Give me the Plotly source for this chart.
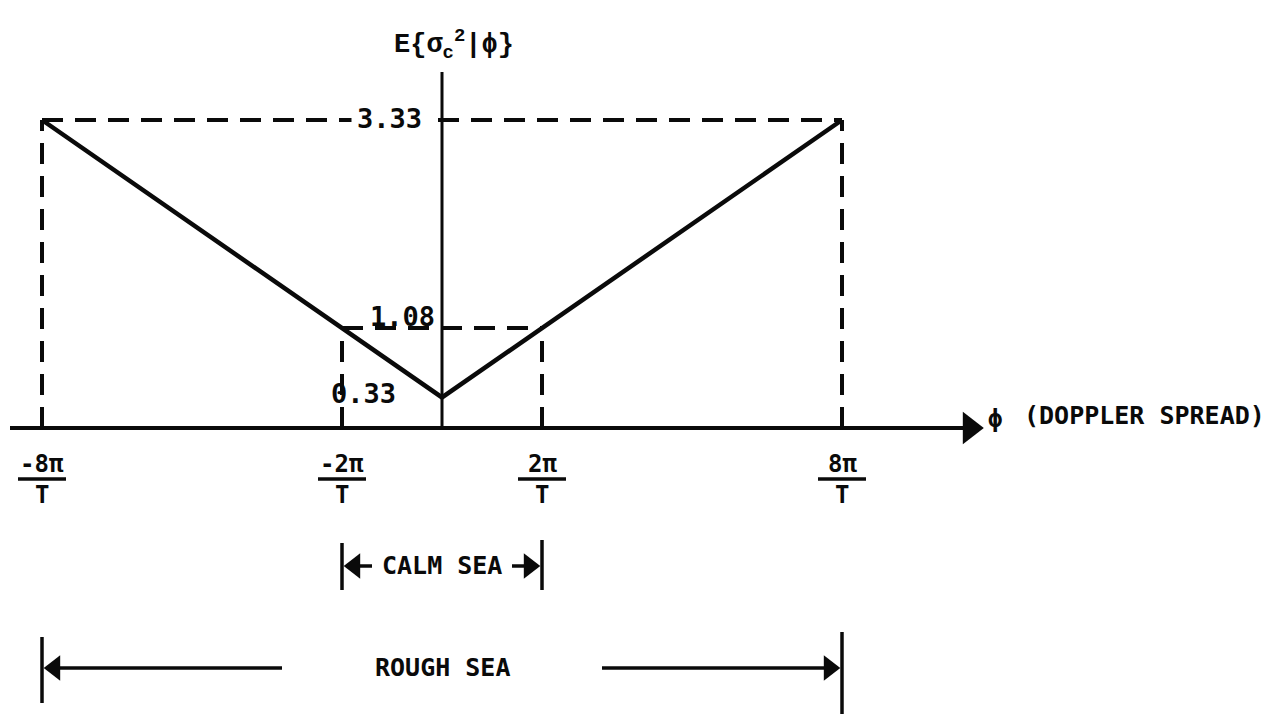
import plotly.graph_objects as go

# Doppler spread in units of pi/T and the expected clutter variance at each break point
phi = [-8, -2, 0, 2, 8]
expected_var = [3.33, 1.08, 0.33, 1.08, 3.33]

tick_phi = [-8, -2, 2, 8]
tick_numerators = ["-8π", "-2π", "2π", "8π"]
tick_denominator = "T"

level_labels = ["3.33", "1.08", "0.33"]
level_values = [3.33, 1.08, 0.33]

calm_sea = [-2, 2]
rough_sea = [-8, 8]

W, H = 1267, 714
X_RANGE = [-8.84, 16.5]
Y_RANGE = [-3.0923, 4.6275]
PX_PER_X = W / (X_RANGE[1] - X_RANGE[0])
FONT = "DejaVu Sans Mono"
INK = "#0a0a0a"


def paper_x(px):
    return px / W


def paper_y(px):
    return 1 - px / H


def data_x(px):
    return X_RANGE[0] + px / PX_PER_X


def data_y(px):
    return Y_RANGE[1] - px / H * (Y_RANGE[1] - Y_RANGE[0])


def bold(s):
    return "<b>" + s + "</b>"


fig = go.Figure()

# dashed guides from each break point down to the axis and across to the ordinate
guide_x, guide_y = [], []
for x_end, level in [(8, 3.33), (2, 1.08)]:
    guide_x += [-x_end, x_end, None, -x_end, -x_end, None, x_end, x_end, None]
    guide_y += [level, level, None, 0, level, None, 0, level, None]
fig.add_trace(go.Scatter(
    x=guide_x, y=guide_y, mode="lines",
    line=dict(color=INK, width=4, dash="21px,12px"),
    hoverinfo="skip", showlegend=False))

# the V-shaped conditional expectation
fig.add_trace(go.Scatter(
    x=phi, y=expected_var, mode="lines",
    line=dict(color=INK, width=4.5),
    hoverinfo="skip", showlegend=False))


def arrow(x_tail, x_tip, y, head_size, width):
    """Horizontal arrow: a shaft plus a filled triangle whose tip sits on x_tip."""
    pointing_right = x_tip > x_tail
    tip_offset = 0.577 * head_size / PX_PER_X
    centre = x_tip - tip_offset if pointing_right else x_tip + tip_offset
    fig.add_trace(go.Scatter(
        x=[x_tail, centre], y=[y, y], mode="lines",
        line=dict(color=INK, width=width),
        hoverinfo="skip", showlegend=False))
    fig.add_trace(go.Scatter(
        x=[centre], y=[y], mode="markers",
        marker=dict(symbol="triangle-right" if pointing_right else "triangle-left",
                    size=head_size, color=INK, line=dict(width=0)),
        hoverinfo="skip", showlegend=False))


# abscissa with arrowhead
arrow(data_x(10), data_x(986), 0, 28, 4)

shapes = []
annotations = []

# ordinate
shapes.append(dict(type="line", xref="x", yref="y", x0=0, x1=0,
                   y0=0, y1=data_y(72), line=dict(color=INK, width=3)))

annotations.append(dict(xref="paper", yref="y", x=paper_x(986), y=0,
                        xanchor="left", yanchor="middle", yshift=9,
                        text=bold("ϕ"), showarrow=False,
                        font=dict(family=FONT, size=24, color=INK)))
annotations.append(dict(xref="paper", yref="y", x=paper_x(1022), y=0,
                        xanchor="left", yanchor="middle", yshift=12,
                        text=bold("(DOPPLER SPREAD)"), showarrow=False,
                        font=dict(family=FONT, size=25, color=INK)))

# ordinate title
annotations.append(dict(xref="x", yref="paper", x=0, y=paper_y(44),
                        xanchor="center", yanchor="middle", xshift=12,
                        text=bold("E{σ<sub>c</sub><sup>2</sup>|ϕ}"), showarrow=False,
                        font=dict(family="Liberation Mono", size=27, color=INK)))

# level labels next to the ordinate
annotations.append(dict(xref="x", yref="y", x=0, y=level_values[0],
                        xanchor="right", yanchor="middle", xshift=-14, yshift=2,
                        text=bold(level_labels[0]), showarrow=False, bgcolor="white",
                        borderpad=5,
                        font=dict(family=FONT, size=27, color=INK)))
annotations.append(dict(xref="x", yref="y", x=0, y=level_values[1],
                        xanchor="right", yanchor="middle", xshift=-5, yshift=12,
                        text=bold(level_labels[1]), showarrow=False,
                        font=dict(family=FONT, size=27, color=INK)))
annotations.append(dict(xref="x", yref="y", x=0, y=level_values[2],
                        xanchor="right", yanchor="middle", xshift=-44, yshift=4,
                        text=bold(level_labels[2]), showarrow=False,
                        font=dict(family=FONT, size=27, color=INK)))

# fractional tick labels under the abscissa
for xv, num in zip(tick_phi, tick_numerators):
    annotations.append(dict(xref="x", yref="y", x=xv, y=0,
                            xanchor="center", yanchor="middle", yshift=-36,
                            text=bold(num), showarrow=False,
                            font=dict(family=FONT, size=24, color=INK)))
    annotations.append(dict(xref="x", yref="y", x=xv, y=0,
                            xanchor="center", yanchor="middle", yshift=-67,
                            text=bold(tick_denominator), showarrow=False,
                            font=dict(family=FONT, size=24, color=INK)))
    shapes.append(dict(type="line", xref="x", yref="paper", xsizemode="pixel",
                       xanchor=xv, x0=-24, x1=24,
                       y0=paper_y(479), y1=paper_y(479),
                       line=dict(color=INK, width=3.5)))


def sea_bracket(span, label, bar_tops, bar_bottoms, arrow_px, tail_gap):
    left, right = span
    for xv, top, bottom in zip(span, bar_tops, bar_bottoms):
        shapes.append(dict(type="line", xref="x", yref="paper", x0=xv, x1=xv,
                           y0=paper_y(top), y1=paper_y(bottom),
                           line=dict(color=INK, width=3.5)))
    mid = (left + right) / 2
    y_arrow = data_y(arrow_px)
    annotations.append(dict(xref="x", yref="y", x=mid, y=y_arrow,
                            xanchor="center", yanchor="middle", yshift=1,
                            text=bold(label), showarrow=False,
                            font=dict(family=FONT, size=25, color=INK)))
    # shafts run from just outside the label out to the bracket bars
    gap = tail_gap / PX_PER_X
    arrow(mid - gap, left, y_arrow, 22, 3.5)
    arrow(mid + gap, right, y_arrow, 22, 3.5)


sea_bracket(calm_sea, "CALM SEA", [543, 540], [590, 590], 566, 70)
sea_bracket(rough_sea, "ROUGH SEA", [637, 632], [703, 714], 668, 160)

fig.update_layout(
    width=W, height=H,
    margin=dict(l=0, r=0, t=0, b=0),
    paper_bgcolor="white", plot_bgcolor="white",
    xaxis=dict(range=X_RANGE, visible=False, fixedrange=True),
    yaxis=dict(range=Y_RANGE, visible=False, fixedrange=True),
    shapes=shapes, annotations=annotations,
    showlegend=False,
)

fig.write_html("out.html")
